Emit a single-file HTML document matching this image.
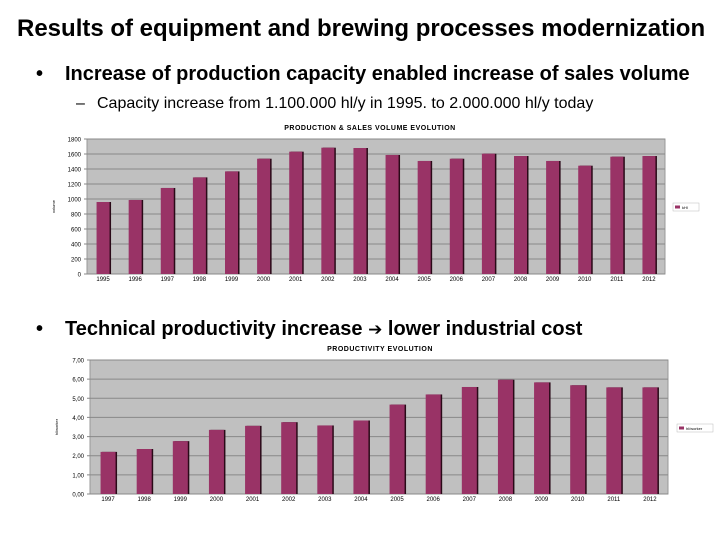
<!DOCTYPE html>
<html><head><meta charset="utf-8"><style>
body{margin:0;width:720px;height:540px;background:#fff;font-family:"Liberation Sans",sans-serif;overflow:hidden;position:relative}
.t{position:absolute;white-space:nowrap;color:#000;line-height:1}
</style></head><body>
<div class="t" style="left:17px;top:17px;font-size:24px;font-weight:bold">Results of equipment and brewing processes modernization</div>
<div class="t" style="left:36px;top:64px;font-size:20px;font-weight:bold"><span style="display:inline-block;width:29px">•</span>Increase of production capacity enabled increase of sales volume</div>
<div class="t" style="left:76px;top:96px;font-size:16px"><span style="display:inline-block;width:21px">–</span>Capacity increase from 1.100.000 hl/y in 1995. to 2.000.000 hl/y today</div>
<div class="t" style="left:36px;top:319px;font-size:20px;font-weight:bold"><span style="display:inline-block;width:29px">•</span>Technical productivity increase <span style="font-family:'DejaVu Sans';font-size:17px">➔</span> lower industrial cost</div>
<svg id="s" width="720" height="540" style="position:absolute;left:0;top:0"></svg>
<script>
const years1=["1995","1996","1997","1998","1999","2000","2001","2002","2003","2004","2005","2006","2007","2008","2009","2010","2011","2012"];
const volume=[960,987,1147,1288,1368,1537,1631,1684,1680,1587,1507,1537,1604,1573,1507,1444,1564,1573];
const ticks1=[0,200,400,600,800,1000,1200,1400,1600,1800];
const years2=["1997","1998","1999","2000","2001","2002","2003","2004","2005","2006","2007","2008","2009","2010","2011","2012"];
const productivity=[2.2,2.35,2.76,3.35,3.56,3.75,3.58,3.84,4.67,5.2,5.59,5.97,5.83,5.68,5.57,5.57];
const ticks2=[0,1,2,3,4,5,6,7];
const NS="http://www.w3.org/2000/svg",svg=document.getElementById('s');
function mk(t,a,p){const e=document.createElementNS(NS,t);for(const k in a)e.setAttribute(k,a[k]);(p||svg).appendChild(e);return e;}
function chart(o){
 const g=mk('g',{});
 
 
 const y=v=>o.bot-(v-o.min)/(o.max-o.min)*(o.bot-o.top);
 const bg=mk('rect',{x:o.left,y:o.top,width:o.right-o.left,height:o.bot-o.top,fill:'#c0c0c0',stroke:'#999','stroke-width':1},g);
 
 
 o.ticks.forEach(t=>{
  const ln=mk('line',{x1:o.left-3,x2:o.right,y1:y(t),y2:y(t),stroke:'#888','stroke-width':1},g);
  
  
  const tx=mk('text',{x:o.left-6,y:y(t)+2.5,'font-size':6,'text-anchor':'end','font-family':'Liberation Sans'},g);
  tx.textContent=o.fmt(t);
  
  
 });
 const cw=(o.right-o.left)/o.cats.length;
 o.cats.forEach((c,i)=>{
  const cx=o.left+cw*(i+0.5);
  const sh=mk('rect',{x:cx-o.bw/2+1.5,y:y(o.vals[i]),width:o.bw,height:o.bot-y(o.vals[i]),fill:'#2a0a18'},g);
  
  
  const b=mk('rect',{x:cx-o.bw/2,y:y(o.vals[i]),width:o.bw,height:o.bot-y(o.vals[i]),fill:'#993366'},g);
  
  
  const tx=mk('text',{x:cx,y:o.bot+7,'font-size':6,'text-anchor':'middle','font-family':'Liberation Sans'},g);
  tx.textContent=c;
  
  
 });
 const tt=mk('text',{x:o.tx,y:o.top-9,'font-size':7,'font-weight':'bold','text-anchor':'middle','font-family':'Liberation Sans','letter-spacing':'0.5'},g);
 tt.textContent=o.title;
 
 
 const yt=mk('text',{x:0,y:0,'font-size':4,'text-anchor':'middle',transform:`translate(${o.left-32},${(o.top+o.bot)/2}) rotate(-90)`,'font-family':'Liberation Sans'},g);
 yt.textContent=o.ytitle;
 
 
 const lg=mk('rect',{x:o.lx,y:o.ly-4,width:o.lw,height:8,fill:'#fff',stroke:'#bbb','stroke-width':0.5},g);
 
 
 const ls=mk('rect',{x:o.lx+2,y:o.ly-1.5,width:5,height:3,fill:'#993366'},g);
 
 
 const lt=mk('text',{x:o.lx+9,y:o.ly+2,'font-size':4,'font-family':'Liberation Sans'},g);
 lt.textContent=o.leg;
 
 
}
chart({name:'volume-chart',cats:years1,vals:volume,ticks:ticks1,min:0,max:1800,left:87,right:665,top:139,bot:274,bw:13,fmt:t=>String(t),title:'PRODUCTION & SALES VOLUME EVOLUTION',tx:370,ytitle:'volume',lx:673,ly:207,lw:26,leg:'kHl'});
chart({name:'productivity-chart',cats:years2,vals:productivity,ticks:ticks2,min:0,max:7,left:90,right:668,top:360,bot:494,bw:15,fmt:t=>t.toFixed(2).replace('.',','),title:'PRODUCTIVITY EVOLUTION',tx:380,ytitle:'hl/worker',lx:677,ly:428,lw:36,leg:'hl/worker'});
</script>
</body></html>
